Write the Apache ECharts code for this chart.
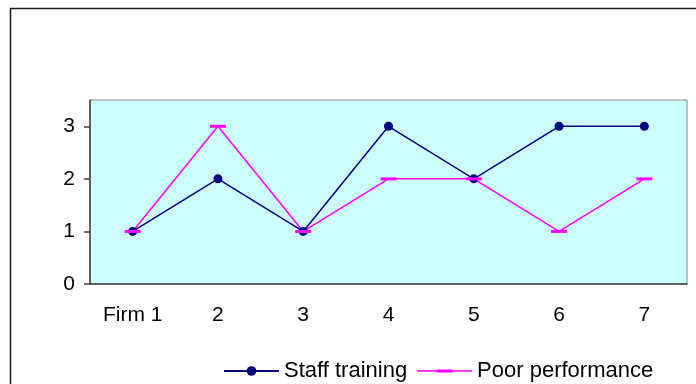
<!DOCTYPE html>
<html>
<head>
<meta charset="utf-8">
<script src="https://cdn.jsdelivr.net/npm/echarts@6/dist/echarts.min.js"></script>
<style>
  html, body { margin: 0; padding: 0; background: #fff; }
  #chart { width: 696px; height: 384px; }
</style>
</head>
<body>
<div id="chart"></div>
<script>
// Firms on the x axis, scores on the y axis
const categories = ['Firm 1', '2', '3', '4', '5', '6', '7'];
const staffTraining = [1, 2, 1, 3, 2, 3, 3];
const poorPerformance = [1, 3, 1, 2, 2, 1, 2];
const yTicks = [0, 1, 2, 3];

const FONT = 'Liberation Sans, Arial, sans-serif';

// Flat dash marker, and a legend glyph made of a thin line with that dash centred on it
const DASH = 'path://M0,0h16v3h-16z';
const DASH_LEGEND = 'path://M0,0.75h19.5v1.5h-19.5zM19.5,0h16v3h-16zM35.5,0.75h19.5v1.5h-19.5z';

const chart = echarts.init(document.getElementById('chart'), null, { renderer: 'canvas' });

chart.setOption({
  animation: false,
  backgroundColor: '#ffffff',
  graphic: [{
    type: 'rect',
    shape: { x: 10.5, y: 8.5, width: 700, height: 400 },
    style: { fill: 'none', stroke: '#1a1a1a', lineWidth: 1.5 },
    silent: true,
    z: -10
  }],
  grid: {
    left: 90, right: 9, top: 100, bottom: 100,
    show: true,
    backgroundColor: '#CCFFFF',
    borderColor: '#888888',
    borderWidth: 1
  },
  legend: {
    left: 218, top: 355,
    itemWidth: 55, itemHeight: 12, itemGap: 10,
    symbolKeepAspect: true,
    textStyle: { fontFamily: FONT, fontSize: 22, color: '#000' },
    data: [
      { name: 'Staff training' },
      { name: 'Poor performance', icon: DASH_LEGEND }
    ]
  },
  xAxis: {
    type: 'category',
    data: categories,
    boundaryGap: true,
    axisLine: { show: true, lineStyle: { color: '#404040', width: 1.5 } },
    axisTick: { show: false },
    axisLabel: { fontFamily: FONT, fontSize: 21, color: '#000', margin: 21 },
    splitLine: { show: false }
  },
  yAxis: {
    type: 'value',
    min: 0, max: 3.5, interval: 1,
    axisLine: { show: true, lineStyle: { color: '#404040', width: 1.5 } },
    axisTick: { show: true, length: 6, customValues: yTicks, lineStyle: { color: '#404040', width: 1.5 } },
    axisLabel: { fontFamily: FONT, fontSize: 21, color: '#000', margin: 15, customValues: yTicks },
    splitLine: { show: false }
  },
  series: [
    {
      name: 'Staff training',
      type: 'line',
      data: staffTraining,
      color: '#000080',
      lineStyle: { color: '#000080', width: 1.5 },
      itemStyle: { color: '#000080' },
      symbol: 'circle',
      symbolSize: 9,
      showAllSymbol: true
    },
    {
      name: 'Poor performance',
      type: 'line',
      data: poorPerformance,
      color: '#FF00FF',
      lineStyle: { color: '#FF00FF', width: 1.5 },
      itemStyle: { color: '#FF00FF' },
      symbol: DASH,
      symbolSize: [16, 3],
      showAllSymbol: true
    }
  ]
});
</script>
</body>
</html>
